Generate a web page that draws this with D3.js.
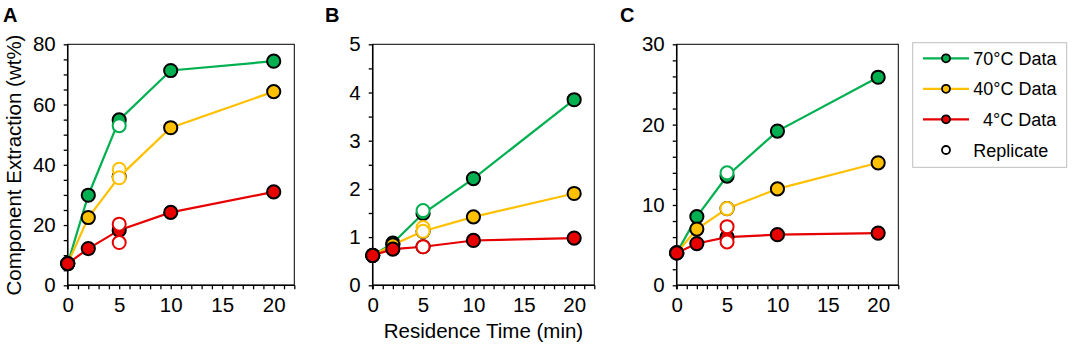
<!DOCTYPE html>
<html>
<head>
<meta charset="utf-8">
<script src="https://cdn.jsdelivr.net/npm/d3@7"></script>
<style>
  body { margin: 0; background: #fff; }
  text { font-family: "Liberation Sans", Arial, sans-serif; }
</style>
</head>
<body>
<div class="container"></div>
<script>
// chart size
const width = 1072;
const height = 348;

// data
const times = [0, 2, 5, 10, 20];
const replicateTime = 5;
const seriesNames = ["70°C Data", "40°C Data", "4°C Data"];

// panel A - component extraction (wt%)
const a70 = [7.2, 29.9, 54.9, 71.3, 74.4];
const a40 = [7.2, 22.5, 36.0, 52.3, 64.3];
const a4 = [7.2, 12.2, 18.3, 24.2, 31.0];
const aRep70 = [53.0];
const aRep40 = [38.5, 35.7];
const aRep4 = [20.3, 14.2];

// panel B
const b70 = [0.62, 0.875, 1.49, 2.215, 3.85];
const b40 = [0.62, 0.84, 1.12, 1.42, 1.905];
const b4 = [0.62, 0.75, 0.80, 0.93, 0.98];
const bRep70 = [1.55];
const bRep40 = [1.2, 1.12];
const bRep4 = [0.80];

// panel C
const c70 = [4.03, 8.55, 13.6, 19.2, 25.9];
const c40 = [4.03, 7.0, 9.55, 12.0, 15.25];
const c4 = [4.03, 5.2, 6.0, 6.3, 6.5];
const cRep70 = [14.0];
const cRep40 = [9.55];
const cRep4 = [7.3, 5.4];

// y axis ticks for each panel
const aTicks = [0, 20, 40, 60, 80];
const bTicks = [0, 1, 2, 3, 4, 5];
const cTicks = [0, 10, 20, 30];
const xTicks = [0, 5, 10, 15, 20];

const colors = ["#00b050", "#ffc000", "#e60000"];

const svg = d3.select(".container")
  .append("svg")
  .attr("width", width)
  .attr("height", height);

const plotTop = 44.3;
const plotBottom = 285.3;

// draw one panel
function drawPanel(opts) {
  const x = d3.scaleLinear().domain([0, 22]).range([opts.left, opts.right]);
  const y = d3.scaleLinear().domain([0, opts.yMax]).range([plotBottom, plotTop]);
  const g = svg.append("g");

  // frame (top and right)
  g.append("rect")
    .attr("x", opts.left).attr("y", plotTop)
    .attr("width", opts.right - opts.left).attr("height", plotBottom - plotTop)
    .attr("fill", "none").attr("stroke", "#000").attr("stroke-width", 1);

  // minor ticks
  g.append("g")
    .attr("transform", `translate(0, ${plotBottom})`)
    .call(d3.axisBottom(x).tickValues(d3.range(0, 23, 1)).tickSize(4).tickFormat(""))
    .call(a => a.select(".domain").remove())
    .selectAll("line").attr("stroke-width", 1.3);
  g.append("g")
    .attr("transform", `translate(${opts.left}, 0)`)
    .call(d3.axisLeft(y).tickValues(d3.range(0, opts.yMax + 1e-9, opts.minor)).tickSize(4).tickFormat(""))
    .call(a => a.select(".domain").remove())
    .selectAll("line").attr("stroke-width", 1.3);

  // tick labels
  g.append("g")
    .attr("transform", `translate(0, ${plotBottom})`)
    .call(d3.axisBottom(x).tickValues(xTicks).tickSize(0).tickPadding(12).tickFormat(d3.format("d")))
    .call(a => a.select(".domain").remove())
    .selectAll("text").attr("font-size", 20.5).attr("font-family", "Liberation Sans, Arial, sans-serif").attr("fill", "#000");
  g.append("g")
    .attr("transform", `translate(${opts.left}, 0)`)
    .call(d3.axisLeft(y).tickValues(opts.ticks).tickSize(0).tickPadding(12).tickFormat(d3.format("d")))
    .call(a => a.select(".domain").remove())
    .selectAll("text").attr("font-size", 20.5).attr("font-family", "Liberation Sans, Arial, sans-serif").attr("fill", "#000");

  // axis lines
  g.append("line")
    .attr("x1", opts.left).attr("x2", opts.right)
    .attr("y1", plotBottom).attr("y2", plotBottom)
    .attr("stroke", "#000").attr("stroke-width", 1.5);
  g.append("line")
    .attr("x1", opts.left).attr("x2", opts.left)
    .attr("y1", plotTop).attr("y2", plotBottom + 4)
    .attr("stroke", "#000").attr("stroke-width", 1.5);

  const line = d3.line().x((d, i) => x(times[i])).y(d => y(d));

  // lines and filled markers
  opts.series.forEach((s, k) => {
    g.append("path")
      .datum(s)
      .attr("d", line)
      .attr("fill", "none")
      .attr("stroke", colors[k])
      .attr("stroke-width", 2.2);
    g.append("g")
      .selectAll("circle")
      .data(s)
      .join("circle")
      .attr("cx", (d, i) => x(times[i]))
      .attr("cy", d => y(d))
      .attr("r", 6.6)
      .attr("fill", colors[k])
      .attr("stroke", "#000")
      .attr("stroke-width", 2);
  });

  // replicate open markers
  opts.reps.forEach((r, k) => {
    g.append("g")
      .selectAll("circle")
      .data(r)
      .join("circle")
      .attr("cx", x(replicateTime))
      .attr("cy", d => y(d))
      .attr("r", 6.5)
      .attr("fill", "#fff")
      .attr("stroke", colors[k])
      .attr("stroke-width", 2);
  });

  // panel letter
  svg.append("text")
    .attr("x", opts.letterX).attr("y", 22)
    .attr("font-size", 20).attr("font-weight", "bold")
    .text(opts.letter);
}

drawPanel({ left: 67.7, right: 294.3, yMax: 80, minor: 5, ticks: aTicks,
  series: [a70, a40, a4], reps: [aRep70, aRep40, aRep4], letter: "A", letterX: 3 });
drawPanel({ left: 372.7, right: 594.3, yMax: 5, minor: 0.5, ticks: bTicks,
  series: [b70, b40, b4], reps: [bRep70, bRep40, bRep4], letter: "B", letterX: 325 });
drawPanel({ left: 676.7, right: 898.3, yMax: 30, minor: 2, ticks: cTicks,
  series: [c70, c40, c4], reps: [cRep70, cRep40, cRep4], letter: "C", letterX: 620 });

// axis titles
svg.append("text")
  .attr("transform", `translate(21, 165) rotate(-90)`)
  .attr("text-anchor", "middle")
  .attr("font-size", 20.5)
  .text("Component Extraction (wt%)");

svg.append("text")
  .attr("x", 483.5).attr("y", 338)
  .attr("text-anchor", "middle")
  .attr("font-size", 20.5)
  .text("Residence Time (min)");

// legend
const legend = svg.append("g");
legend.append("rect")
  .attr("x", 912.7).attr("y", 42.7)
  .attr("width", 154).attr("height", 124.6)
  .attr("fill", "#fff").attr("stroke", "#bfbfbf").attr("stroke-width", 1);

const legendRows = [58.3, 88.8, 119.3, 150];
seriesNames.forEach((name, k) => {
  legend.append("line")
    .attr("x1", 923).attr("x2", 969)
    .attr("y1", legendRows[k]).attr("y2", legendRows[k])
    .attr("stroke", colors[k]).attr("stroke-width", 2.2);
  legend.append("circle")
    .attr("cx", 946).attr("cy", legendRows[k]).attr("r", 4)
    .attr("fill", colors[k]).attr("stroke", "#000").attr("stroke-width", 1.8);
  legend.append("text")
    .attr("x", k === 2 ? 983 : 973.3).attr("y", legendRows[k] + 6.5)
    .attr("font-size", 18)
    .text(name);
});
legend.append("circle")
  .attr("cx", 946).attr("cy", legendRows[3]).attr("r", 4)
  .attr("fill", "#fff").attr("stroke", "#000").attr("stroke-width", 1.8);
legend.append("text")
  .attr("x", 973.3).attr("y", legendRows[3] + 6.5)
  .attr("font-size", 18)
  .text("Replicate");
</script>
</body>
</html>
